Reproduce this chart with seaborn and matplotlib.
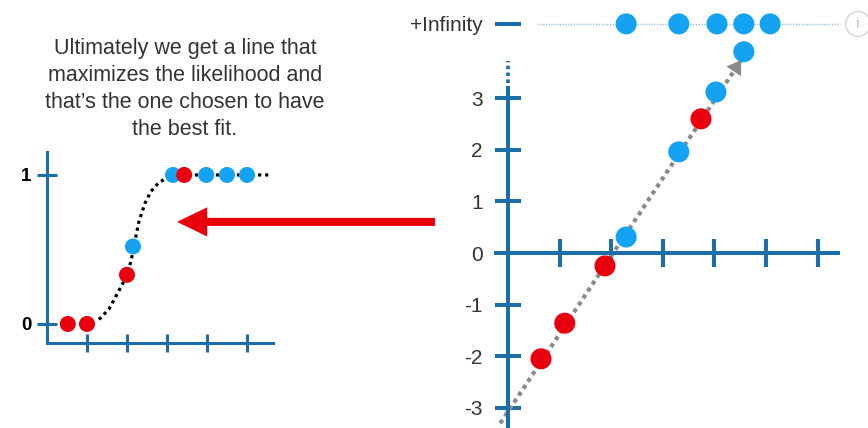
import matplotlib
matplotlib.use("Agg")
import matplotlib.pyplot as plt
import seaborn as sns
import pandas as pd

# ---- left panel: probability that the point is blue ----
left_x = [0.52, 1.0, 2.0, 2.15, 3.15, 3.43, 3.98, 4.5, 5.0]
left_y = [0, 0, 0.33, 0.52, 1, 1, 1, 1, 1]
left_cls = ['red', 'red', 'red', 'blue', 'blue', 'red', 'blue', 'blue', 'blue']

# fitted squiggle
sig_x = [1.3, 1.55, 1.75, 1.95, 2.1, 2.2, 2.3, 2.45, 2.6, 2.8, 3.0, 3.3, 5.55]
sig_y = [0.03, 0.1, 0.2, 0.3, 0.42, 0.56, 0.69, 0.81, 0.89, 0.95, 0.98, 1.0, 1.0]

# ---- right panel: log(odds) ----
INF_Y = 4.44   # where "+Infinity" sits on the axis
right_x = [0.64, 1.1, 1.88, 2.29, 3.31, 3.74, 4.03, 4.57,
           2.29, 3.31, 4.05, 4.57, 5.08]
right_y = [-2.05, -1.36, -0.25, 0.31, 1.96, 2.6, 3.12, 3.9,
           INF_Y, INF_Y, INF_Y, INF_Y, INF_Y]
right_cls = ['red', 'red', 'red', 'blue', 'blue', 'red', 'blue', 'blue',
             'blue', 'blue', 'blue', 'blue', 'blue']

line_x = [-0.15, 4.52]
line_y = [-3.3, 3.74]

right_yticks = [-3, -2, -1, 0, 1, 2, 3, INF_Y]
right_ylabels = ['-3', '-2', '-1', '0', '1', '2', '3', '+Infinity']

caption = ("Ultimately we get a line that\nmaximizes the likelihood and\n"
           "that\u2019s the one chosen to have\nthe best fit.")

RED = '#e8000d'
BLUE = '#14a2f2'
AXC = '#1b6ea8'
pal = {'red': RED, 'blue': BLUE}

sns.set_style("white")
plt.rcParams['font.family'] = ['Liberation Sans', 'DejaVu Sans']
plt.rcParams['axes.unicode_minus'] = False

fig = plt.figure(figsize=(8.68, 4.28), dpi=100)
ax1 = fig.add_axes([0, 0, 440 / 868, 1])
ax2 = fig.add_axes([440 / 868, 0, 428 / 868, 1])
for ax in (ax1, ax2):
    ax.patch.set_visible(False)
    ax.spines['top'].set_visible(False)
    ax.spines['right'].set_visible(False)

# left panel
df_l = pd.DataFrame({'x': left_x, 'y': left_y, 'cls': left_cls})
sns.lineplot(x=sig_x, y=sig_y, sort=False, ax=ax1, color='black', lw=2.3,
             linestyle=(0, (1, 1.2)), zorder=2)
sns.scatterplot(data=df_l, x='x', y='y', hue='cls', palette=pal, s=133,
                linewidth=0, legend=False, ax=ax1, zorder=3)
ax1.set_xlim(-1.175, 9.825)
ax1.set_ylim(-0.698, 2.174)
ax1.spines['left'].set_position(('data', 0))
ax1.spines['left'].set_bounds(-0.128, 1.154)
ax1.spines['bottom'].set_position(('data', -0.128))
ax1.spines['bottom'].set_bounds(0, 5.65)
for s in ('left', 'bottom'):
    ax1.spines[s].set_color(AXC)
    ax1.spines[s].set_linewidth(2.2)
ax1.set_xticks([1, 2, 3, 4, 5])
ax1.set_yticks([0, 1])
ax1.set_yticklabels(['0', '1'], fontsize=13.5, fontweight='bold', color='black')
ax1.tick_params(axis='x', bottom=True, direction='inout', length=13, width=2.2,
                color=AXC, labelbottom=False)
ax1.tick_params(axis='y', left=True, direction='inout', length=14.4, width=2.2,
                color=AXC, pad=4)
ax1.set_xlabel('')
ax1.set_ylabel('')

# big red arrow pointing back at the squiggle
ax1.annotate('', xy=(3.25, 0.685), xytext=(9.7, 0.685),
             arrowprops=dict(arrowstyle='simple,head_length=1.5,head_width=1.45,tail_width=0.4',
                             mutation_scale=14.5, color=RED, lw=0,
                             shrinkA=0, shrinkB=0))

fig.text(185 / 868, 1 - 89 / 428, caption, ha='center', va='center',
         fontsize=15.5, color='#333333', linespacing=1.37)

# right panel
df_r = pd.DataFrame({'x': right_x, 'y': right_y, 'cls': right_cls})
sns.lineplot(x=line_x, y=line_y, sort=False, ax=ax2, color='#8a8a8a', lw=3,
             linestyle=(0, (1, 1)), zorder=2)
ax2.annotate('', xy=(line_x[1], line_y[1]),
             xytext=(line_x[1] - 0.12, line_y[1] - 0.12 * 1.51),
             arrowprops=dict(arrowstyle='-|>,head_length=0.7,head_width=0.45',
                             mutation_scale=14, color='#8a8a8a', lw=0,
                             shrinkA=0, shrinkB=0))
ax2.plot([0.56, 6.43], [INF_Y, INF_Y], color='#9cc3de', lw=1,
         linestyle=(0, (1, 1)), zorder=1)
sns.scatterplot(data=df_r, x='x', y='y', hue='cls', palette=pal, s=229,
                linewidth=0, legend=False, ax=ax2, zorder=3)
ax2.set_xlim(-1.318, 6.977)
ax2.set_ylim(-3.391, 4.903)
ax2.spines['left'].set_position(('data', 0))
ax2.spines['left'].set_bounds(-3.391, 3.2)
ax2.spines['bottom'].set_position(('data', 0))
ax2.spines['bottom'].set_bounds(-0.23, 6.4)
for s in ('left', 'bottom'):
    ax2.spines[s].set_color(AXC)
    ax2.spines[s].set_linewidth(2.9)
ax2.plot([0, 0], [3.3, 3.72], color=AXC, lw=2.6, linestyle=(0, (1, 0.9)),
         clip_on=False)
ax2.set_xticks([1, 2, 3, 4, 5, 6])
ax2.set_yticks(right_yticks)
ax2.set_yticklabels(right_ylabels, fontsize=15, color='#333333')
ax2.tick_params(axis='x', bottom=True, direction='inout', length=20, width=2.9,
                color=AXC, labelbottom=False)
ax2.tick_params(axis='y', left=True, direction='inout', length=18.7, width=2.9,
                color=AXC, pad=9)
ax2.set_xlabel('')
ax2.set_ylabel('')

# little info badge in the corner
fig.text(858 / 868, 1 - 24 / 428, 'i', ha='center', va='center', fontsize=11,
         color='#c8c8c8',
         bbox=dict(boxstyle='circle,pad=0.35', fc='none', ec='#d4d4d4', lw=1))

fig.savefig('out.png', dpi=100)
